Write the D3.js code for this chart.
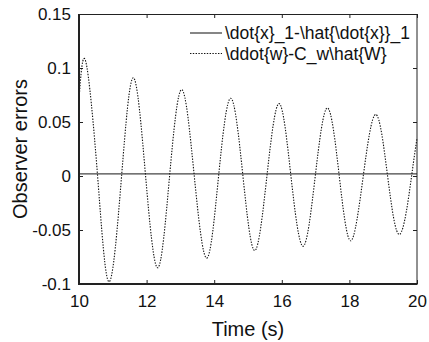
<!DOCTYPE html>
<html>

<head>
    <meta charset="utf-8">
    <style>
        body {
            margin: 0;
            background: white;
        }

        svg {
            display: block;
            font-family: 'Liberation Sans', Arial, sans-serif;
        }
    </style>
</head>

<body>
    <svg width="429" height="342" id="chart"></svg>
</body>

<script src="https://d3js.org/d3.v7.min.js"></script>

<script>

    // readings
    let xTicks = [10, 12, 14, 16, 18, 20]
    let yTicks = [-0.1, -0.05, 0, 0.05, 0.1, 0.15]
    let yTickLabels = ["-0.1", "-0.05", "0", "0.05", "0.1", "0.15"]

    let legendNames = ["\\dot{x}_1-\\hat{\\dot{x}}_1", "\\ddot{w}-C_w\\hat{W}"]

    let timeX1 = [10, 12, 14, 16, 18, 20]
    let errX1 = [0.002, 0.002, 0.002, 0.002, 0.002, 0.002]

    let timeW = [10.00, 10.20, 10.55, 10.89, 11.26, 11.61, 11.97, 12.33, 12.68, 13.04,
                 13.41, 13.78, 14.13, 14.49, 14.85, 15.20, 15.56, 15.92, 16.27, 16.63,
                 16.99, 17.35, 17.70, 18.04, 18.41, 18.78, 19.13, 19.49, 19.84, 20.00]
    let errW = [0.070, 0.106, 0, -0.098, 0, 0.091, 0, -0.085, 0, 0.080,
                0, -0.076, 0, 0.072, 0, -0.069, 0, 0.067, 0, -0.065,
                0, 0.063, 0, -0.060, 0, 0.057, 0, -0.054, 0, 0.035]

    let margin = {top: 14, right: 12, bottom: 58, left: 79}
    let width = 429
    let height = 342

    let svg = d3.select("#chart")

    let x = d3.scaleLinear()
        .domain([10, 20])
        .range([margin.left, width - margin.right])

    let y = d3.scaleLinear()
        .domain([-0.1, 0.15])
        .range([height - margin.bottom, margin.top])

    let axisColor = "#222"

    // tick marks inside, mirrored on top and right
    let tickLen = 4
    svg.append("g")
        .attr("transform", "translate(0," + (height - margin.bottom) + ")")
        .call(d3.axisBottom(x).tickValues(xTicks).tickSize(-tickLen).tickPadding(11).tickFormat(d3.format("d")))
        .call(g => g.select(".domain").remove())
        .call(g => g.selectAll("line").attr("stroke", axisColor))
        .call(g => g.selectAll("text").attr("font-size", 17).attr("fill", "#111").attr("font-family", null))

    svg.append("g")
        .attr("transform", "translate(0," + margin.top + ")")
        .call(d3.axisTop(x).tickValues(xTicks).tickSize(-tickLen).tickFormat(""))
        .call(g => g.select(".domain").remove())
        .call(g => g.selectAll("line").attr("stroke", axisColor))

    svg.append("g")
        .attr("transform", "translate(" + margin.left + ",0)")
        .call(d3.axisLeft(y).tickValues(yTicks).tickSize(-tickLen).tickPadding(8).tickFormat((d, i) => yTickLabels[i]))
        .call(g => g.select(".domain").remove())
        .call(g => g.selectAll("line").attr("stroke", axisColor))
        .call(g => g.selectAll("text").attr("font-size", 17).attr("fill", "#111").attr("font-family", null))

    svg.append("g")
        .attr("transform", "translate(" + (width - margin.right) + ",0)")
        .call(d3.axisRight(y).tickValues(yTicks).tickSize(-tickLen).tickFormat(""))
        .call(g => g.select(".domain").remove())
        .call(g => g.selectAll("line").attr("stroke", axisColor))

    // series
    let line = d3.line()
        .x(d => x(d[0]))
        .y(d => y(d[1]))
        .curve(d3.curveNatural)

    svg.append("path")
        .datum(timeX1.map((t, i) => [t, errX1[i]]))
        .attr("d", line)
        .attr("fill", "none")
        .attr("stroke", "#444")
        .attr("stroke-width", 1.3)

    svg.append("path")
        .datum(timeW.map((t, i) => [t, errW[i]]))
        .attr("d", line)
        .attr("fill", "none")
        .attr("stroke", "#111")
        .attr("stroke-width", 1.1)
        .attr("stroke-dasharray", "1.4,1.4")

    // box
    svg.append("rect")
        .attr("x", margin.left)
        .attr("y", margin.top + 0.5)
        .attr("width", width - margin.right - margin.left)
        .attr("height", height - margin.bottom - margin.top)
        .attr("fill", "none")
        .attr("stroke", axisColor)
        .attr("stroke-width", 1)

    svg.append("path")
        .attr("d", "M" + margin.left + "," + margin.top + "V" + (height - margin.bottom) + "H" + (width - margin.right))
        .attr("fill", "none")
        .attr("stroke", axisColor)
        .attr("stroke-width", 2)

    // legend
    let legend = svg.append("g")
        .attr("transform", "translate(190,33)")

    let legendStyles = [
        {stroke: "#444", dash: null, w: 1.3},
        {stroke: "#111", dash: "1.4,1.4", w: 1.1}
    ]

    legend.selectAll("g")
        .data(legendNames)
        .join("g")
        .attr("transform", (d, i) => "translate(0," + (i * 20.5) + ")")
        .each(function (d, i) {
            let g = d3.select(this)
            g.append("line")
                .attr("x1", 0)
                .attr("x2", 32)
                .attr("stroke", legendStyles[i].stroke)
                .attr("stroke-width", legendStyles[i].w)
                .attr("stroke-dasharray", legendStyles[i].dash)
            g.append("text")
                .attr("x", 35)
                .attr("dy", "0.35em")
                .attr("font-size", 17.5)
                .attr("fill", "#111")
                .text(d)
        })

    // axis titles
    svg.append("text")
        .attr("x", (margin.left + width - margin.right) / 2)
        .attr("y", 336)
        .attr("text-anchor", "middle")
        .attr("font-size", 20)
        .attr("fill", "#111")
        .text("Time (s)")

    svg.append("text")
        .attr("transform", "translate(27," + ((margin.top + height - margin.bottom) / 2) + ") rotate(-90)")
        .attr("text-anchor", "middle")
        .attr("font-size", 20)
        .attr("fill", "#111")
        .text("Observer errors")

</script>

</html>
